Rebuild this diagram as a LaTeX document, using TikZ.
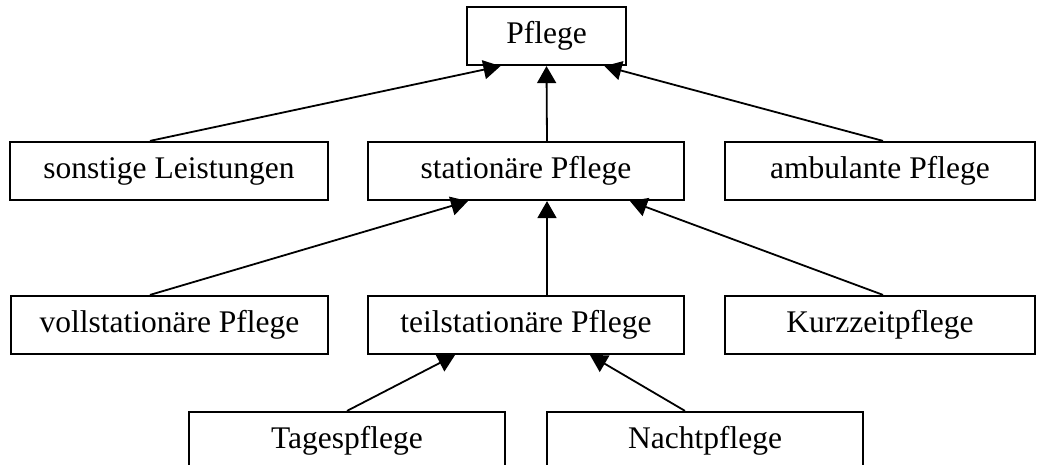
\documentclass[tikz,border=0pt]{standalone}
\usepackage{fontspec}
\setmainfont{Liberation Serif}
\usetikzlibrary{arrows.meta}
\begin{document}
\begin{tikzpicture}[x=1pt,y=-1pt,
  box/.style={draw,line width=2.2pt,minimum height=58pt,inner sep=0pt,
    font=\fontsize{31.5}{36}\selectfont},
  wide/.style={box,minimum width=316pt},
  link/.style={line width=1.8pt,-{Triangle[length=17pt,width=19pt]}}]
  \useasboundingbox (0,0) rectangle (1037,465);
  \begin{scope}
    \clip (0,0) rectangle (1037,465);
    % top level
    \node[box,minimum width=159pt] (pflege) at (546.5,36) {Pflege};
    % second level
    \node[wide,minimum width=318pt] (sonst) at (169,171) {sonstige Leistungen};
    \node[wide] (stat) at (526,171) {stationäre Pflege};
    \node[wide,minimum width=310pt] (amb) at (880,171) {ambulante Pflege};
    % third level
    \node[wide,minimum width=317pt] (voll) at (169.5,325) {vollstationäre Pflege};
    \node[wide] (teil) at (526,325) {teilstationäre Pflege};
    \node[wide,minimum width=310pt] (kurz) at (880,325) {Kurzzeitpflege};
    % fourth level
    \node[wide] (tages) at (347,441) {Tagespflege};
    \node[wide] (nacht) at (705,441) {Nachtpflege};
  \end{scope}
  % connectors pointing up to the parent
  \draw[link] ([xshift=-19pt]sonst.north) -- ([xshift=-46pt]pflege.south);
  \draw[link] ([xshift=21pt]stat.north) -- (pflege.south);
  \draw[link] ([xshift=3pt]amb.north) -- ([xshift=58pt]pflege.south);
  \draw[link] ([xshift=-19.5pt]voll.north) -- ([xshift=-58pt]stat.south);
  \draw[link] ([xshift=21pt]teil.north) -- ([xshift=21pt]stat.south);
  \draw[link] ([xshift=3pt]kurz.north) -- ([xshift=104pt]stat.south);
  \draw[link] (tages.north) -- ([xshift=-71pt]teil.south);
  \draw[link] ([xshift=-20pt]nacht.north) -- ([xshift=64pt]teil.south);
\end{tikzpicture}
\end{document}
